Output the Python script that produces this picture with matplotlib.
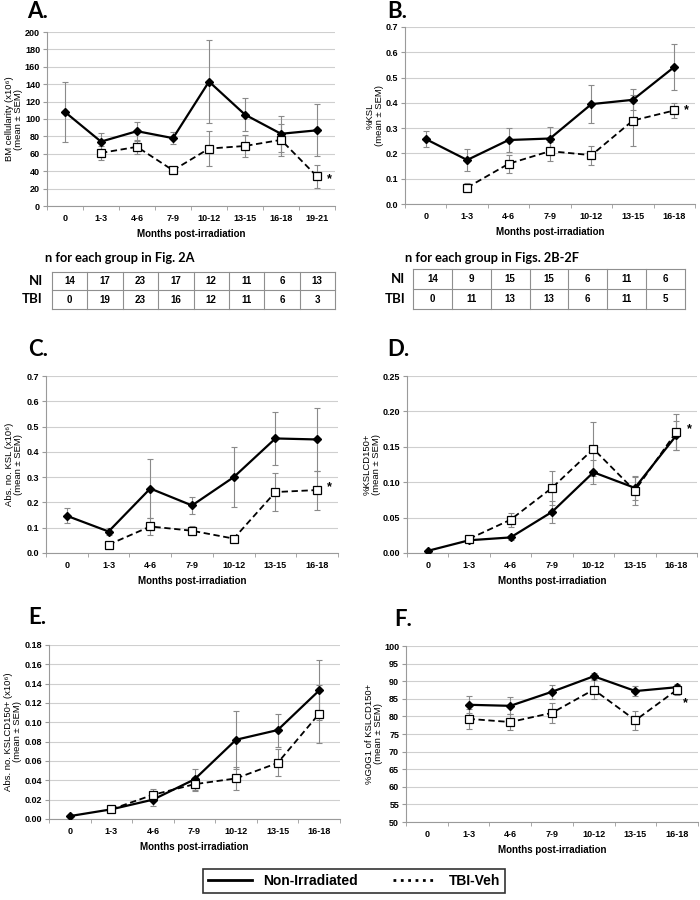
import numpy as np
import matplotlib
matplotlib.use("Agg")
import matplotlib.pyplot as plt
from matplotlib.lines import Line2D
from matplotlib.ticker import FormatStrFormatter, FixedLocator
from matplotlib.transforms import blended_transform_factory

plt.rcParams["font.family"] = ["Liberation Sans", "DejaVu Sans"]

# categories
cats_a = ["0", "1-3", "4-6", "7-9", "10-12", "13-15", "16-18", "19-21"]
cats = ["0", "1-3", "4-6", "7-9", "10-12", "13-15", "16-18"]
nan = np.nan

# A. BM cellularity
a_ni = [108, 74, 86, 78, 143, 105, 83, 87]
a_ni_err = [34, 10, 11, 7, 48, 19, 21, 30]
a_tbi = [nan, 61, 68, 41, 66, 69, 76, 34]
a_tbi_err = [nan, 8, 8, 3, 20, 13, 18, 13]

# B. %KSL
b_ni = [0.257, 0.174, 0.253, 0.259, 0.395, 0.412, 0.542]
b_ni_err = [0.033, 0.042, 0.048, 0.047, 0.075, 0.041, 0.092]
b_tbi = [nan, 0.065, 0.159, 0.209, 0.193, 0.330, 0.370]
b_tbi_err = [nan, 0.018, 0.035, 0.037, 0.038, 0.100, 0.030]

# C. Abs. no. KSL
c_ni = [0.147, 0.085, 0.255, 0.188, 0.300, 0.453, 0.449]
c_ni_err = [0.029, 0.015, 0.118, 0.035, 0.118, 0.103, 0.124]
c_tbi = [nan, 0.033, 0.105, 0.088, 0.057, 0.241, 0.249]
c_tbi_err = [nan, 0.005, 0.035, 0.018, 0.005, 0.074, 0.077]

# D. %KSLCD150+
d_ni = [0.003, 0.018, 0.022, 0.058, 0.114, 0.092, 0.166]
d_ni_err = [0.001, 0.003, 0.003, 0.016, 0.017, 0.017, 0.020]
d_tbi = [nan, 0.020, 0.047, 0.092, 0.147, 0.088, 0.171]
d_tbi_err = [nan, 0.004, 0.010, 0.024, 0.038, 0.020, 0.025]

# E. Abs. no. KSLCD150+
e_ni = [0.003, 0.010, 0.020, 0.041, 0.082, 0.092, 0.133]
e_ni_err = [0.001, 0.002, 0.007, 0.011, 0.030, 0.017, 0.031]
e_tbi = [nan, 0.010, 0.025, 0.036, 0.042, 0.058, 0.109]
e_tbi_err = [nan, 0.002, 0.006, 0.007, 0.012, 0.014, 0.030]

# F. %G0G1 of KSLCD150+
f_ni = [nan, 83.3, 83.0, 87.0, 91.4, 87.2, 88.3]
f_ni_err = [nan, 2.4, 2.4, 2.0, 0.8, 1.3, 0.7]
f_tbi = [nan, 79.3, 78.4, 81.0, 87.6, 78.9, 87.6]
f_tbi_err = [nan, 2.8, 2.2, 2.8, 2.6, 2.7, 1.5]

# n tables
n_a_ni = [14, 17, 23, 17, 12, 11, 6, 13]
n_a_tbi = [0, 19, 23, 16, 12, 11, 6, 3]
n_b_ni = [14, 9, 15, 15, 6, 11, 6]
n_b_tbi = [0, 11, 13, 13, 6, 11, 5]

W, H = 700.0, 900.0
fig = plt.figure(figsize=(7, 9), dpi=100)

grid_c = "#cfcfcf"
spine_c = "#9a9a9a"
err_c = "#8a8a8a"
title_font = ["Lato", "DejaVu Sans"]


def panel(rect, labels, ni, ni_err, tbi, tbi_err, ylim, ystep, fmt, ylabel,
          label_px, letter, letter_xy, star=None, star_off=(8, 0)):
    ax = fig.add_axes(rect)
    x = np.arange(len(labels))
    ni = np.array(ni, dtype=float)
    tbi = np.array(tbi, dtype=float)
    ax.errorbar(x, ni, yerr=ni_err, fmt="none", ecolor=err_c, elinewidth=0.8,
                capsize=2, capthick=0.8, zorder=2)
    ax.errorbar(x, tbi, yerr=tbi_err, fmt="none", ecolor=err_c, elinewidth=0.8,
                capsize=2, capthick=0.8, zorder=2)
    m = ~np.isnan(ni)
    ax.plot(x[m], ni[m], "-", color="black", lw=1.6, marker="D", ms=4.2,
            mfc="black", mec="black", zorder=4)
    m = ~np.isnan(tbi)
    ax.plot(x[m], tbi[m], "--", color="black", lw=1.3, dashes=(3.5, 2),
            marker="s", ms=6, mfc="white", mec="black", mew=0.9, zorder=5)
    ax.set_xlim(-0.5, len(labels) - 0.5)
    ax.set_ylim(*ylim)
    ax.set_yticks(np.arange(ylim[0], ylim[1] + ystep / 2, ystep))
    ax.yaxis.set_major_formatter(FormatStrFormatter(fmt))
    ax.set_xticks(x)
    ax.set_xticklabels(labels)
    ax.xaxis.set_minor_locator(FixedLocator(np.arange(-0.5, len(labels), 1.0)))
    ax.tick_params(axis="x", which="major", length=0, pad=6)
    ax.tick_params(axis="x", which="minor", length=3, color=spine_c)
    ax.tick_params(axis="y", length=3, color=spine_c, pad=2)
    for t in ax.get_xticklabels() + ax.get_yticklabels():
        t.set_fontsize(6.5)
        t.set_fontweight("bold")
    ax.grid(axis="y", color=grid_c, lw=0.8)
    ax.set_axisbelow(True)
    for s in ["top", "right"]:
        ax.spines[s].set_visible(False)
    for s in ["left", "bottom"]:
        ax.spines[s].set_color(spine_c)
        ax.spines[s].set_linewidth(0.8)
    ax.set_ylabel(ylabel, fontsize=6.8, linespacing=1.05)
    ax.yaxis.set_label_coords(label_px / W, 0.5,
                              transform=blended_transform_factory(fig.transFigure, ax.transAxes))
    ax.set_xlabel("Months post-irradiation", fontsize=7, fontweight="bold",
                  labelpad=4)
    fig.text(letter_xy[0], letter_xy[1], letter, fontsize=16, fontweight="bold",
             family=title_font, va="center", ha="left")
    if star is not None:
        ax.annotate("*", xy=star, xytext=star_off, textcoords="offset points",
                    fontsize=9, fontweight="bold", ha="left", va="center")
    return ax


def ntable(rect, ni, tbi, title, title_xy, lab_x):
    ax = fig.add_axes(rect)
    n = len(ni)
    ax.set_xlim(0, n)
    ax.set_ylim(0, 2)
    ax.axis("off")
    for i in range(n + 1):
        ax.plot([i, i], [0, 2], color="#8f8f8f", lw=0.8, clip_on=False)
    for j in range(3):
        ax.plot([0, n], [j, j], color="#8f8f8f", lw=0.8, clip_on=False)
    for i in range(n):
        ax.text(i + 0.5, 1.5, str(ni[i]), ha="center", va="center",
                fontsize=7, fontweight="bold")
        ax.text(i + 0.5, 0.5, str(tbi[i]), ha="center", va="center",
                fontsize=7, fontweight="bold")
    fig.text(lab_x, rect[1] + rect[3] * 0.76, "NI", ha="right", va="center",
             fontsize=9.5, fontweight="bold", family=title_font)
    fig.text(lab_x, rect[1] + rect[3] * 0.26, "TBI", ha="right", va="center",
             fontsize=9.5, fontweight="bold", family=title_font)
    fig.text(title_xy[0], title_xy[1], title, ha="left", va="center",
             fontsize=9.2, fontweight="bold", family=title_font)


panel([47 / W, 1 - 206 / H, 288 / W, 174 / H], cats_a, a_ni, a_ni_err,
      a_tbi, a_tbi_err, (0, 200), 20, "%d",
      "BM cellularity (x10⁶)\n(mean ± SEM)", 23, "A.", (27 / W, 1 - 12 / H),
      star=(7, 34), star_off=(7, -2))
panel([405 / W, 1 - 204 / H, 290 / W, 177 / H], cats, b_ni, b_ni_err,
      b_tbi, b_tbi_err, (0, 0.7), 0.1, "%.1f",
      "%KSL\n(mean ± SEM)", 384, "B.", (387 / W, 1 - 12 / H),
      star=(6, 0.37), star_off=(7, 0))
panel([46 / W, 1 - 553 / H, 292 / W, 177 / H], cats, c_ni, c_ni_err,
      c_tbi, c_tbi_err, (0, 0.7), 0.1, "%.1f",
      "Abs. no. KSL (x10⁶)\n(mean ± SEM)", 23, "C.", (28 / W, 1 - 350 / H),
      star=(6, 0.249), star_off=(7, 2))
panel([407 / W, 1 - 553 / H, 290 / W, 177 / H], cats, d_ni, d_ni_err,
      d_tbi, d_tbi_err, (0, 0.25), 0.05, "%.2f",
      "%KSLCD150+\n(mean ± SEM)", 381, "D.", (387 / W, 1 - 350 / H),
      star=(6, 0.171), star_off=(8, 2))
panel([49 / W, 1 - 819 / H, 291 / W, 174 / H], cats, e_ni, e_ni_err,
      e_tbi, e_tbi_err, (0, 0.18), 0.02, "%.2f",
      "Abs. no. KSLCD150+ (x10⁶)\n(mean ± SEM)", 22, "E.",
      (28 / W, 1 - 617 / H))
panel([406 / W, 1 - 822 / H, 292 / W, 176 / H], cats, f_ni, f_ni_err,
      f_tbi, f_tbi_err, (50, 100), 5, "%d",
      "%G0G1 of KSLCD150+\n(mean ± SEM)", 383, "F.", (394 / W, 1 - 619 / H),
      star=(6, 87.6), star_off=(4, -10))

ntable([52 / W, 1 - 309 / H, 283 / W, 37 / H], n_a_ni, n_a_tbi,
       "n for each group in Fig. 2A", (45 / W, 1 - 258 / H), 43 / W)
ntable([413 / W, 1 - 309 / H, 272 / W, 40 / H], n_b_ni, n_b_tbi,
       "n for each group in Figs. 2B-2F", (405 / W, 1 - 258 / H), 405 / W)

handles = [Line2D([0], [0], color="black", lw=2, ls="-"),
           Line2D([0], [0], color="black", lw=2, ls=":")]
leg = fig.legend(handles, ["Non-Irradiated", "TBI-Veh"], loc="center",
                 bbox_to_anchor=(354 / W, 1 - 881 / H), ncol=2, frameon=True,
                 fancybox=False, edgecolor="black", handlelength=3.2,
                 columnspacing=2.5, borderpad=0.35,
                 prop={"weight": "bold", "size": 10})
leg.get_frame().set_linewidth(1.2)

fig.savefig("out.png", dpi=100)
